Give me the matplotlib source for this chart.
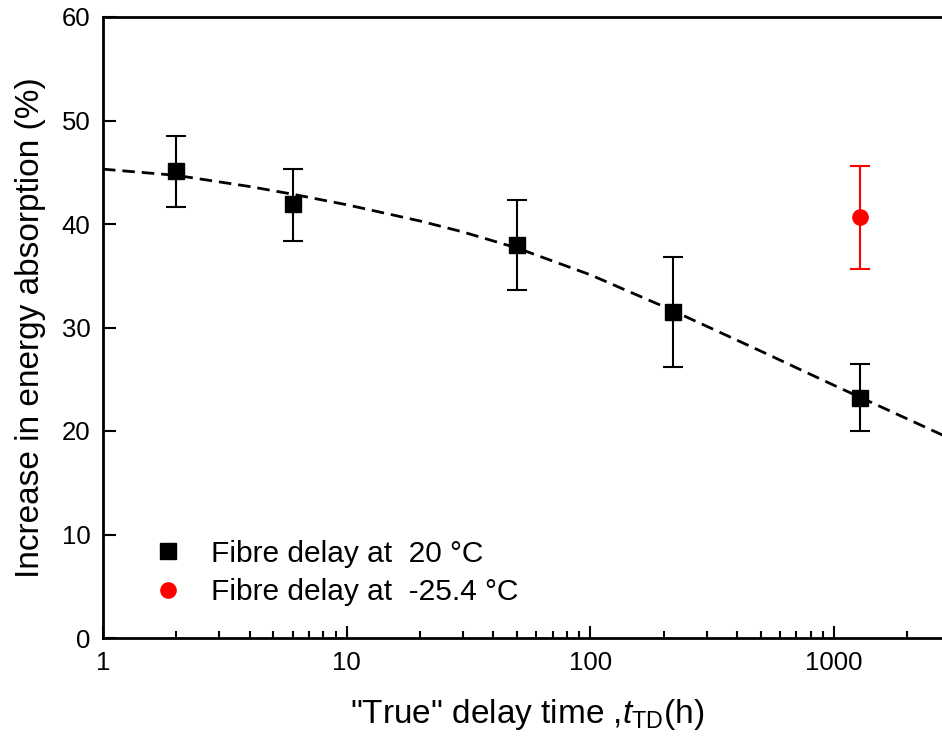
import matplotlib.pyplot as plt
from matplotlib.ticker import LogLocator, FixedLocator, NullFormatter

plt.rcParams['font.family'] = ['Liberation Sans', 'DejaVu Sans']
plt.rcParams['mathtext.fontset'] = 'custom'
plt.rcParams['mathtext.rm'] = 'Liberation Sans'
plt.rcParams['mathtext.it'] = 'Liberation Sans:italic'

# measured points, fibre delay at 20 °C
t_20 = [2, 6, 50, 218, 1277]
e_20 = [45.1, 41.9, 38.0, 31.5, 23.2]
lo_20 = [41.6, 38.4, 33.6, 26.2, 20.0]
hi_20 = [48.5, 45.3, 42.3, 36.8, 26.5]

# fibre delay at -25.4 °C
t_cold = [1277]
e_cold = [40.7]
lo_cold = [35.7]
hi_cold = [45.6]

# fitted trend
fit_t = [1, 2, 4, 6, 10, 20, 30, 50, 70, 100, 150, 200, 300, 500, 700, 1000, 1277, 2000, 3000]
fit_e = [45.3, 44.7, 43.62, 42.88, 41.86, 40.29, 39.23, 37.68, 36.42, 35.09, 33.29, 32.02,
         30.12, 27.72, 26.11, 24.41, 23.26, 21.16, 19.26]

fig = plt.figure(figsize=(9.42, 7.42), dpi=100)
ax = fig.add_axes([103/942, 104/742, 847.4/942, 621/742])

ax.plot(fit_t, fit_e, color='black', linestyle=(0, (4.5, 2.5)), linewidth=2, zorder=2)

err_20 = [[e - l for e, l in zip(e_20, lo_20)], [h - e for e, h in zip(e_20, hi_20)]]
ax.errorbar(t_20, e_20, yerr=err_20, fmt='none', ecolor='black', elinewidth=1.5,
            capsize=7, capthick=1.5, zorder=3)
ax.plot(t_20, e_20, 's', color='black', markersize=11, linestyle='none',
        label='Fibre delay at  20 °C', zorder=4)

err_cold = [[e - l for e, l in zip(e_cold, lo_cold)], [h - e for e, h in zip(e_cold, hi_cold)]]
ax.errorbar(t_cold, e_cold, yerr=err_cold, fmt='none', ecolor='red', elinewidth=1.5,
            capsize=7, capthick=1.5, zorder=3)
ax.plot(t_cold, e_cold, 'o', color='red', markersize=11, linestyle='none',
        label='Fibre delay at  -25.4 °C', zorder=4)

ax.set_xscale('log')
ax.set_xlim(1, 3000)
ax.set_ylim(0, 60)
ax.xaxis.set_major_locator(FixedLocator([1, 10, 100, 1000]))
ax.set_xticklabels(['1', '10', '100', '1000'])
ax.xaxis.set_minor_locator(LogLocator(base=10, subs=range(2, 10)))
ax.xaxis.set_minor_formatter(NullFormatter())
ax.set_yticks(range(0, 61, 10))

ax.tick_params(which='both', direction='in', top=False, right=False, labelsize=18.5, width=1.5)
ax.tick_params(which='major', length=9, pad=9)
ax.tick_params(which='minor', length=5)
for s in ax.spines.values():
    s.set_linewidth(2)

ax.set_xlabel('"True" delay time ,$t_{\\mathrm{TD}}$(h)', fontsize=24, labelpad=16)
ax.set_ylabel('Increase in energy absorption (%)', fontsize=24, labelpad=11)

ax.legend(loc='lower left', bbox_to_anchor=(0.018, 0.008), frameon=False, fontsize=21.5,
          handletextpad=0.7, labelspacing=0.35, handlelength=1.5)

fig.savefig('out.png', dpi=100)
